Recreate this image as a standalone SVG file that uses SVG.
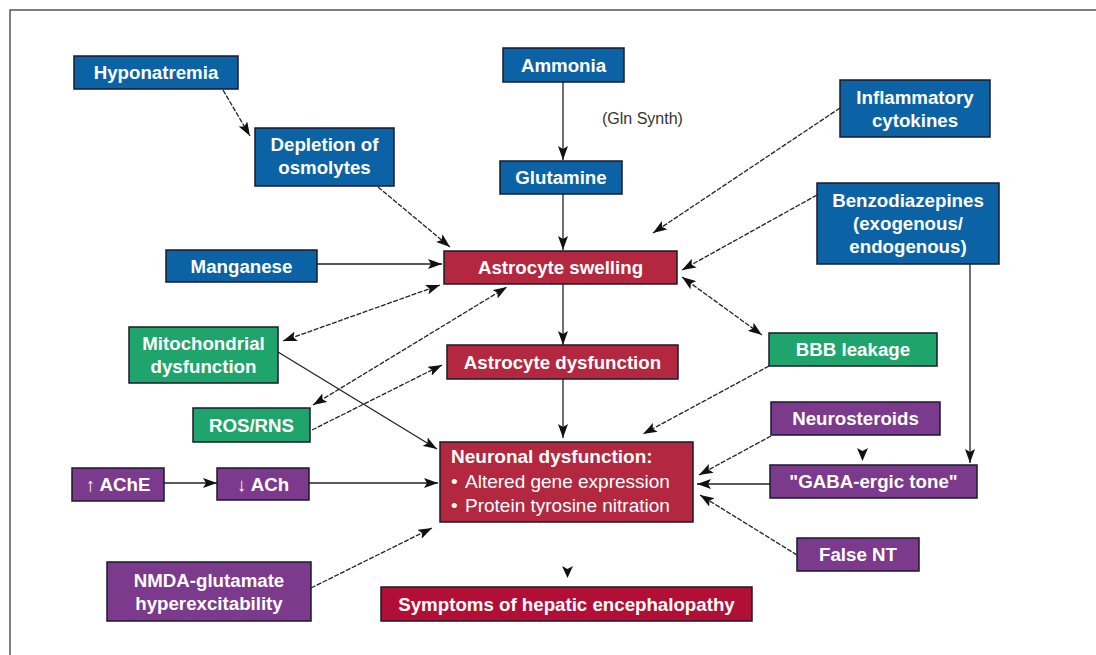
<svg xmlns="http://www.w3.org/2000/svg" width="1096" height="655" viewBox="0 0 1096 655">
<style>
.box{stroke:#1a1a2a;stroke-width:1.5}
.blue{fill:#0b63a6}
.red{fill:#b3283f}
.dred{fill:#b20f36}
.green{fill:#1fa56c}
.purple{fill:#7c3a8d}
.t{font-family:"Liberation Sans",Arial,sans-serif;font-weight:bold;font-size:18.7px;fill:#ffffff;text-anchor:middle}
.tl{font-family:"Liberation Sans",Arial,sans-serif;font-size:19px;fill:#ffffff}
.c{stroke:#222;stroke-width:1.3;fill:none}
.d{stroke-dasharray:5 1.5}
.a{marker-end:url(#ah)}
.b{marker-start:url(#ah);marker-end:url(#ah)}
</style>
<defs>
<marker id="ah" markerUnits="userSpaceOnUse" markerWidth="14" markerHeight="10" refX="14" refY="5" orient="auto-start-reverse">
<path d="M0,0 L14,5 L0,10 L3,5 z" fill="#111"/>
</marker>
</defs>
<rect width="1096" height="655" fill="#ffffff"/>
<path d="M10,655 L10,10 L1096,10" fill="none" stroke="#555" stroke-width="1.5"/>

<g id="connectors">
<path class="c d a" d="M223,90 L250,136"/>
<path class="c d a" d="M378,187 L450,247"/>
<path class="c a" d="M317,264 L442,264"/>
<path class="c a" d="M563,82 L563,160"/>
<path class="c a" d="M563,194 L563,250"/>
<path class="c d a" d="M840,108 L653,233"/>
<path class="c d a" d="M817,195 L682,270"/>
<path class="c a" d="M970,264 L970,463"/>
<path class="c d b" d="M682,277 L762,335"/>
<path class="c d a" d="M769,366 L643,434"/>
<path class="c d b" d="M283,341 L440,285"/>
<path class="c a" d="M278,352 L437,449"/>
<path class="c d b" d="M313,405 L507,287"/>
<path class="c d a" d="M312,430 L442,365"/>
<path class="c a" d="M164,483 L217,483"/>
<path class="c a" d="M309,483 L438,483"/>
<path class="c a" d="M563,284 L563,345"/>
<path class="c a" d="M563,379 L563,438"/>
<path class="c d a" d="M771,436 L699,475"/>
<path class="c a" d="M770,484 L697,484"/>
<path class="c d a" d="M797,555 L700,495"/>
<path class="c d a" d="M311,588 L432,528"/>
<path d="M562,566 L567.5,569 L573,566 L567.5,578 z" fill="#111"/>
<path d="M857,448 L862.5,451 L868,448 L862.5,461 z" fill="#111"/>
</g>

<g id="hyponatremia"><rect class="box blue" x="74" y="56" width="164" height="33"/><text class="t" x="156" y="79">Hyponatremia</text></g>
<g id="depletion"><rect class="box blue" x="255" y="128" width="139" height="58"/><text class="t" x="324.5" y="151">Depletion of</text><text class="t" x="324.5" y="174">osmolytes</text></g>
<g id="manganese"><rect class="box blue" x="166" y="250" width="151" height="32"/><text class="t" x="241.5" y="272.5">Manganese</text></g>
<g id="ammonia"><rect class="box blue" x="503" y="48" width="121" height="34"/><text class="t" x="563.5" y="71.5">Ammonia</text></g>
<g id="glnsynth"><text x="602" y="124" font-family="Liberation Sans, Arial, sans-serif" font-size="16" fill="#333">(Gln Synth)</text></g>
<g id="glutamine"><rect class="box blue" x="500" y="161" width="122" height="33"/><text class="t" x="561" y="184">Glutamine</text></g>
<g id="inflammatory"><rect class="box blue" x="840" y="80" width="150" height="57"/><text class="t" x="915" y="104">Inflammatory</text><text class="t" x="915" y="127">cytokines</text></g>
<g id="benzodiazepines"><rect class="box blue" x="817" y="183" width="182" height="81"/><text class="t" x="908" y="207">Benzodiazepines</text><text class="t" x="908" y="230">(exogenous/</text><text class="t" x="908" y="253">endogenous)</text></g>
<g id="astrocyte-swelling"><rect class="box red" x="444" y="251" width="233" height="33"/><text class="t" x="560.5" y="274">Astrocyte swelling</text></g>
<g id="mitochondrial"><rect class="box green" x="129" y="327" width="149" height="56"/><text class="t" x="203.5" y="350">Mitochondrial</text><text class="t" x="203.5" y="373">dysfunction</text></g>
<g id="bbb"><rect class="box green" x="769" y="333" width="168" height="33"/><text class="t" x="853" y="356">BBB leakage</text></g>
<g id="astrocyte-dysfunction"><rect class="box red" x="447" y="345" width="231" height="34"/><text class="t" x="562.5" y="368.5">Astrocyte dysfunction</text></g>
<g id="ros"><rect class="box green" x="193" y="408" width="117" height="34"/><text class="t" x="251.5" y="431.5">ROS/RNS</text></g>
<g id="neurosteroids"><rect class="box purple" x="771" y="402" width="169" height="33"/><text class="t" x="855.5" y="425">Neurosteroids</text></g>
<g id="ache"><rect class="box purple" x="72" y="468" width="92" height="33"/><text class="t" x="118" y="491">↑ AChE</text></g>
<g id="ach"><rect class="box purple" x="217" y="468" width="92" height="32"/><text class="t" x="263" y="490.5">↓ ACh</text></g>
<g id="neuronal"><rect class="box red" x="440" y="442" width="253" height="80"/><text class="tl" x="451" y="463" font-weight="bold" font-size="18.7">Neuronal dysfunction:</text><text class="tl" y="488"><tspan x="451">•</tspan><tspan x="465">Altered gene expression</tspan></text><text class="tl" y="512"><tspan x="451">•</tspan><tspan x="465">Protein tyrosine nitration</tspan></text></g>
<g id="gaba"><rect class="box purple" x="770" y="465" width="207" height="33"/><text class="t" x="873.5" y="488">"GABA-ergic tone"</text></g>
<g id="falsent"><rect class="box purple" x="797" y="538" width="122" height="33"/><text class="t" x="858" y="561">False NT</text></g>
<g id="nmda"><rect class="box purple" x="107" y="562" width="204" height="59"/><text class="t" x="209" y="587">NMDA-glutamate</text><text class="t" x="209" y="610">hyperexcitability</text></g>
<g id="symptoms"><rect class="box dred" x="381" y="587" width="371" height="34"/><text class="t" x="566.5" y="610.5">Symptoms of hepatic encephalopathy</text></g>
</svg>
